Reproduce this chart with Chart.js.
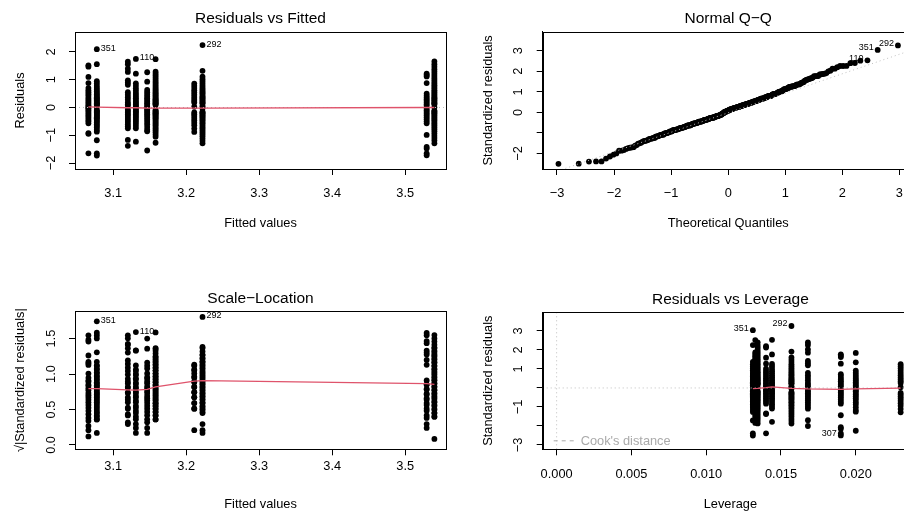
<!DOCTYPE html>
<html>
<head>
<meta charset="utf-8">
<script src="https://cdn.jsdelivr.net/npm/chart.js@4.4.1/dist/chart.umd.min.js"></script>
<style>
  html, body { margin: 0; padding: 0; background: #fff; overflow: hidden; }
  #wrap { position: relative; width: 904px; height: 512px; overflow: hidden; }
  canvas { position: absolute; }
</style>
</head>
<body>
<div id="wrap">
  <canvas id="c1" width="452" height="256" style="left:0;top:0"></canvas>
  <canvas id="c2" width="470" height="256" style="left:452px;top:0"></canvas>
  <canvas id="c3" width="452" height="256" style="left:0;top:256px"></canvas>
  <canvas id="c4" width="470" height="256" style="left:452px;top:256px"></canvas>
</div>
<script>
// fitted value and leverage of each of the 10 groups
const fittedLevels = [3.066, 3.0775, 3.120, 3.131, 3.1465, 3.158, 3.211, 3.2223, 3.5294, 3.540];
const leverageLevels = [0.0140, 0.01312, 0.0168, 0.0144, 0.0200, 0.01328, 0.0230, 0.0157, 0.0190, 0.01344];

// residuals of each group (labelled observation first where there is one)
const resG1 = [1.52, 1.47, 1.10, 0.88, 0.70, 0.62, 0.55, 0.48, 0.41, 0.34, 0.28, 0.22, 0.16, 0.10, 0.05, 0.01, -0.03, -0.08, -0.13, -0.19, -0.25, -0.31, -0.37, -0.44, -0.50, -0.57, -0.92, -0.95, -1.65];
const resG2 = [2.10, 1.56, 0.95, 0.86, 0.78, 0.71, 0.64, 0.58, 0.52, 0.47, 0.42, 0.37, 0.33, 0.29, 0.25, 0.21, 0.17, 0.14, 0.11, 0.09, 0.02, -0.09, -0.12, -0.15, -0.19, -0.23, -0.27, -0.31, -0.35, -0.39, -0.44, -0.49, -0.54, -0.60, -0.66, -0.72, -0.80, -0.87, -1.18, -1.65, -1.73];
const resG3 = [1.65, 1.56, 1.40, 1.28, 0.98, 0.90, 0.82, 0.55, 0.46, 0.37, 0.28, 0.18, 0.12, 0.06, -0.07, -0.13, -0.19, -0.25, -0.31, -0.38, -0.45, -0.52, -0.60, -0.68, -0.75, -1.17, -1.38];
const resG4 = [1.75, 1.22, 0.87, 0.78, 0.69, 0.61, 0.53, 0.46, 0.39, 0.33, 0.27, 0.21, 0.16, 0.11, 0.06, 0.02, -0.04, -0.09, -0.14, -0.19, -0.25, -0.31, -0.37, -0.44, -0.51, -0.59, -0.67, -0.75, -1.23];
const resG5 = [1.27, 0.93, 0.63, 0.55, 0.47, 0.40, 0.33, 0.27, 0.21, 0.15, 0.09, 0.04, -0.02, -0.07, -0.12, -0.18, -0.24, -0.30, -0.37, -0.44, -0.52, -0.60, -0.70, -0.80, -0.86, -1.55];
const resG6 = [1.74, 1.29, 1.22, 1.15, 1.08, 1.01, 0.94, 0.88, 0.82, 0.76, 0.70, 0.65, 0.60, 0.55, 0.50, 0.46, 0.42, 0.38, 0.34, 0.30, 0.27, 0.24, 0.21, 0.18, 0.15, 0.12, 0.09, -0.09, -0.12, -0.15, -0.18, -0.21, -0.24, -0.28, -0.32, -0.36, -0.40, -0.44, -0.49, -0.54, -0.59, -0.64, -0.70, -0.76, -0.82, -0.89, -0.97, -1.05, -1.27];
const resG7 = [0.86, 0.78, 0.70, 0.62, 0.54, 0.46, 0.38, 0.31, 0.24, 0.18, 0.03, -0.18, -0.24, -0.31, -0.38, -0.46, -0.55, -0.64, -0.76, -0.88];
const resG8 = [2.25, 1.32, 1.11, 1.02, 0.94, 0.86, 0.79, 0.72, 0.66, 0.60, 0.55, 0.50, 0.45, 0.40, 0.36, 0.32, 0.28, 0.24, 0.20, 0.17, 0.14, 0.06, 0.02, -0.03, -0.15, -0.18, -0.21, -0.25, -0.29, -0.33, -0.37, -0.42, -0.47, -0.52, -0.57, -0.63, -0.69, -0.75, -0.82, -0.89, -0.96, -1.04, -1.12, -1.20, -1.29];
const resG9 = [-1.72, 1.22, 1.17, 1.12, 0.88, 0.50, 0.43, 0.36, 0.30, 0.24, 0.18, 0.12, 0.06, -0.04, -0.10, -0.16, -0.22, -0.28, -0.35, -0.42, -0.50, -0.57, -0.99, -1.42, -1.48, -1.65];
const resG10 = [1.66, 1.56, 1.47, 1.38, 1.30, 1.22, 1.14, 1.07, 1.00, 0.93, 0.86, 0.80, 0.74, 0.68, 0.62, 0.57, 0.52, 0.47, 0.42, 0.37, 0.33, 0.29, 0.25, 0.21, 0.17, 0.14, 0.11, 0.005, -0.11, -0.14, -0.18, -0.22, -0.26, -0.31, -0.36, -0.41, -0.46, -0.52, -0.58, -0.64, -0.71, -0.78, -0.86, -0.94, -1.02, -1.10, -1.19, -1.29];
const residGroups = [resG1, resG2, resG3, resG4, resG5, resG6, resG7, resG8, resG9, resG10];
const sigma = 0.695;

// labelled observations: name and group (it is the first entry of that group)
const idText = ['351', '110', '292', '307'];
const idGroup = [1, 3, 7, 8];

// red smoothers
const smoothFitY = [0.02, 0.01, -0.01, -0.01, -0.02, -0.02, -0.02, -0.02, 0.0, 0.0];
const smoothScaleY = [0.795, 0.795, 0.778, 0.775, 0.785, 0.82, 0.90, 0.907, 0.865, 0.855];
const smoothLevX = [0.01312, 0.01344, 0.0140, 0.0144, 0.0157, 0.0168, 0.0190, 0.0200, 0.0230];
const smoothLevY = [-0.03, -0.02, 0.02, 0.06, -0.02, -0.05, -0.07, -0.05, -0.01];

// Q-Q reference line: intercept, slope
const qqLine = [-0.02, 0.95];

// ticks
const fitTicks = [3.1, 3.2, 3.3, 3.4, 3.5];
const fitLabels = ['3.1', '3.2', '3.3', '3.4', '3.5'];
const residTicks = [-2, -1, 0, 1, 2];
const residLabels = ['\u22122', '\u22121', '0', '1', '2'];
const qqXTicks = [-3, -2, -1, 0, 1, 2, 3];
const qqXLabels = ['\u22123', '\u22122', '\u22121', '0', '1', '2', '3'];
const qqYTicks = [-2, -1, 0, 1, 2, 3];
const qqYLabels = ['\u22122', '', '0', '1', '2', '3'];
const scaleTicks = [0, 0.5, 1, 1.5];
const scaleLabels = ['0.0', '0.5', '1.0', '1.5'];
const levTicks = [0, 0.005, 0.01, 0.015, 0.02];
const levLabels = ['0.000', '0.005', '0.010', '0.015', '0.020'];
const levYTicks = [-3, -2, -1, 0, 1, 2, 3];
const levYLabels = ['\u22123', '', '\u22121', '', '1', '2', '3'];

// inverse normal cdf (Acklam)
function qnorm(p) {
  const a = [-3.969683028665376e+01, 2.209460984245205e+02, -2.759285104469687e+02, 1.383577518672690e+02, -3.066479806614716e+01, 2.506628277459239e+00];
  const b = [-5.447609879822406e+01, 1.615858368580409e+02, -1.556989798598866e+02, 6.680131188771972e+01, -1.328068155288572e+01];
  const c = [-7.784894002430293e-03, -3.223964580411365e-01, -2.400758277161838e+00, -2.549732539343734e+00, 4.374664141464968e+00, 2.938163982698783e+00];
  const d = [7.784695709041462e-03, 3.224671290700398e-01, 2.445134137142996e+00, 3.754408661907416e+00];
  const tail = q => (((((c[0]*q+c[1])*q+c[2])*q+c[3])*q+c[4])*q+c[5]) / ((((d[0]*q+d[1])*q+d[2])*q+d[3])*q+1);
  if (p < 0.02425) return tail(Math.sqrt(-2 * Math.log(p)));
  if (p > 1 - 0.02425) return -tail(Math.sqrt(-2 * Math.log(1 - p)));
  const q = p - 0.5, r = q * q;
  return (((((a[0]*r+a[1])*r+a[2])*r+a[3])*r+a[4])*r+a[5])*q / (((((b[0]*r+b[1])*r+b[2])*r+b[3])*r+b[4])*r+1);
}

// one record per observation
const obs = [];
residGroups.forEach((g, k) => {
  g.forEach((r, i) => {
    const h = leverageLevels[k];
    const j = idGroup.indexOf(k);
    obs.push({
      fit: fittedLevels[k], lev: h, res: r,
      std: r / (sigma * Math.sqrt(1 - h)),
      id: (i === 0 && j >= 0) ? idText[j] : null
    });
  });
});
const sorted = obs.slice().sort((a, b) => a.std - b.std);
const qq = sorted.map((o, i) => ({ x: qnorm((i + 0.5) / sorted.length), y: o.std, id: o.id }));

const RED = '#DF536B';
const GRAY = '#BEBEBE';
const FONT = '"Liberation Sans", Arial, sans-serif';

function pointsSet(data) {
  return { type: 'scatter', data: data, pointRadius: 2.9, pointBackgroundColor: '#000', pointBorderWidth: 0, order: 3 };
}
function lineSet(data, color, dash) {
  return { type: 'line', data: data, borderColor: color, borderWidth: dash ? 1 : 1.3, borderDash: dash || [], pointRadius: 0, fill: false, tension: 0, order: dash ? 2 : 1 };
}
function notesFor(list, ids, xKey, yKey, side) {
  return list.filter(o => o.id && ids.includes(o.id)).map(o => ({ x: o[xKey], y: yKey(o), text: o.id, side: side }));
}

const decor = {};
const rDecor = {
  id: 'rDecor',
  afterDraw(chart) {
    const p = decor[chart.canvas.id];
    const ctx = chart.ctx, a = chart.chartArea;
    const xs = chart.scales.x, ys = chart.scales.y;
    ctx.save();
    ctx.strokeStyle = '#000';
    ctx.lineWidth = 1;
    ctx.strokeRect(Math.round(a.left) + 0.5, Math.round(a.top) + 0.5, Math.round(a.right - a.left), Math.round(a.bottom - a.top));
    ctx.fillStyle = '#000';
    ctx.textAlign = 'center';
    ctx.textBaseline = 'middle';
    ctx.font = '12.8px ' + FONT;
    p.xTicks.forEach((v, i) => ctx.fillText(p.xLabels[i], xs.getPixelForValue(v), a.bottom + p.xLabGap));
    p.yTicks.forEach((v, i) => {
      ctx.save();
      ctx.translate(a.left - 24, ys.getPixelForValue(v));
      ctx.rotate(-Math.PI / 2);
      ctx.fillText(p.yLabels[i], 0, 0);
      ctx.restore();
    });
    const cx = (a.left + a.right) / 2;
    ctx.fillText(p.xTitle, cx, p.xTitleY);
    ctx.save();
    ctx.translate(p.yTitleX, (a.top + a.bottom) / 2);
    ctx.rotate(-Math.PI / 2);
    ctx.fillText(p.yTitle, 0, 0);
    ctx.restore();
    ctx.font = '15.5px ' + FONT;
    ctx.fillText(p.title, cx, p.titleY);
    // labelled observations
    ctx.font = '9px ' + FONT;
    p.notes.forEach(n => {
      const px = xs.getPixelForValue(n.x), py = ys.getPixelForValue(n.y);
      if (n.side === 'right') {
        ctx.textAlign = 'left';
        ctx.fillText(n.text, px + 4, py - 1);
      } else {
        ctx.textAlign = 'right';
        ctx.fillText(n.text, px - 4, py - 2);
      }
    });
    if (p.legend) {
      ctx.strokeStyle = '#aaaaaa';
      ctx.setLineDash([4, 4]);
      ctx.beginPath();
      ctx.moveTo(a.left + 11, a.bottom - 8.5);
      ctx.lineTo(a.left + 33, a.bottom - 8.5);
      ctx.stroke();
      ctx.setLineDash([]);
      ctx.fillStyle = '#aaaaaa';
      ctx.textAlign = 'left';
      ctx.font = '12.8px ' + FONT;
      ctx.fillText(p.legend, a.left + 38, a.bottom - 8);
    }
    ctx.restore();
  }
};

function makePanel(id, p) {
  const cv = document.getElementById(id);
  const W = cv.width, H = cv.height;
  decor[id] = p;
  const axis = (min, max, ticks, fit) => ({
    type: 'linear', min: min, max: max,
    afterBuildTicks: s => { s.ticks = ticks.map(v => ({ value: v })); },
    afterFit: fit,
    ticks: { display: false },
    title: { display: false },
    grid: { display: true, drawOnChartArea: false, drawTicks: true, tickLength: 6, color: '#000', lineWidth: 1 },
    border: { display: true, color: '#000', width: 1 }
  });
  return new Chart(cv, {
    type: 'scatter',
    data: { datasets: p.datasets },
    options: {
      responsive: false,
      animation: false,
      devicePixelRatio: 1,
      layout: { padding: { left: 0, top: p.box[1], right: W - p.box[2], bottom: 0 } },
      plugins: { legend: { display: false }, tooltip: { enabled: false } },
      scales: {
        x: axis(p.xMin, p.xMax, p.xTicks, s => { s.height = H - p.box[3]; }),
        y: axis(p.yMin, p.yMax, p.yTicks, s => { s.width = p.box[0]; })
      }
    },
    plugins: [rDecor]
  });
}

// Residuals vs Fitted
makePanel('c1', {
  box: [75, 32, 446, 169], xMin: 3.0476, xMax: 3.5559, yMin: -2.216, yMax: 2.72,
  xTicks: fitTicks, xLabels: fitLabels, yTicks: residTicks, yLabels: residLabels,
  title: 'Residuals vs Fitted', titleY: 19, xTitle: 'Fitted values', xTitleY: 223,
  yTitle: 'Residuals', yTitleX: 20, xLabGap: 24,
  notes: notesFor(obs, ['351', '110', '292'], 'fit', o => o.res, 'right'),
  datasets: [
    pointsSet(obs.map(o => ({ x: o.fit, y: o.res }))),
    lineSet(fittedLevels.map((f, i) => ({ x: f, y: smoothFitY[i] })), RED),
    lineSet([{ x: 3.0476, y: 0 }, { x: 3.5559, y: 0 }], GRAY, [1, 3])
  ]
});

// Normal Q-Q
makePanel('c2', {
  box: [90.7, 31.7, 461.7, 169], xMin: -3.25, xMax: 3.25, yMin: -2.76, yMax: 3.93,
  xTicks: qqXTicks, xLabels: qqXLabels, yTicks: qqYTicks, yLabels: qqYLabels,
  title: 'Normal Q\u2212Q', titleY: 19, xTitle: 'Theoretical Quantiles', xTitleY: 223,
  yTitle: 'Standardized residuals', yTitleX: 36.7, xLabGap: 24,
  notes: notesFor(qq, ['351', '110', '292'], 'x', o => o.y, 'left'),
  datasets: [
    pointsSet(qq.map(o => ({ x: o.x, y: o.y }))),
    lineSet([-3.25, 3.25].map(x => ({ x: x, y: qqLine[0] + qqLine[1] * x })), GRAY, [1, 3])
  ]
});

// Scale-Location
makePanel('c3', {
  box: [75, 55, 446, 193.3], xMin: 3.0476, xMax: 3.5559, yMin: -0.061, yMax: 1.89,
  xTicks: fitTicks, xLabels: fitLabels, yTicks: scaleTicks, yLabels: scaleLabels,
  title: 'Scale\u2212Location', titleY: 43, xTitle: 'Fitted values', xTitleY: 248,
  yTitle: '\u221A|Standardized residuals|', yTitleX: 20, xLabGap: 17,
  notes: notesFor(obs, ['351', '110', '292'], 'fit', o => Math.sqrt(Math.abs(o.std)), 'right'),
  datasets: [
    pointsSet(obs.map(o => ({ x: o.fit, y: Math.sqrt(Math.abs(o.std)) }))),
    lineSet(fittedLevels.map((f, i) => ({ x: f, y: smoothScaleY[i] })), RED)
  ]
});

// Residuals vs Leverage
makePanel('c4', {
  box: [90.7, 56, 466, 193.3], xMin: -0.00093, xMax: 0.02416, yMin: -3.23, yMax: 4.0,
  xTicks: levTicks, xLabels: levLabels, yTicks: levYTicks, yLabels: levYLabels,
  title: 'Residuals vs Leverage', titleY: 43.3, xTitle: 'Leverage', xTitleY: 248.3,
  yTitle: 'Standardized residuals', yTitleX: 36.7, xLabGap: 25,
  legend: "Cook's distance",
  notes: notesFor(obs, ['351', '292', '307'], 'lev', o => o.std, 'left'),
  datasets: [
    pointsSet(obs.map(o => ({ x: o.lev, y: o.std }))),
    lineSet(smoothLevX.map((x, i) => ({ x: x, y: smoothLevY[i] })), RED),
    lineSet([{ x: -0.00093, y: 0 }, { x: 0.02416, y: 0 }], GRAY, [1, 3]),
    lineSet([{ x: 0, y: -3.23 }, { x: 0, y: 4.0 }], GRAY, [1, 3])
  ]
});
</script>
</body>
</html>
